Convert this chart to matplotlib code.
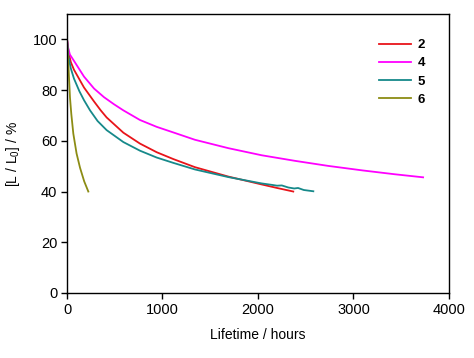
import numpy as np
from matplotlib import pyplot as plt

plt.rcParams['font.family'] = ['Liberation Sans', 'DejaVu Sans']
plt.rcParams['mathtext.fontset'] = 'custom'
plt.rcParams['mathtext.rm'] = 'Liberation Sans'

# values, hours vs. relative luminance (%)
t2 = [0, 15, 40, 73, 178, 283, 353, 415, 590, 764, 939, 1113, 1340, 1689, 2038, 2200, 2370]
l2 = [100, 95, 91, 88, 81, 75.5, 72, 69.2, 63.2, 58.9, 55.5, 52.8, 49.6, 45.9, 42.8, 41.4, 40]

t4 = [0, 10, 30, 73, 178, 283, 387, 492, 590, 764, 939, 1113, 1340, 1689, 2038, 2387, 2736, 3100, 3434, 3730]
l4 = [100, 97, 94, 91.5, 85.3, 80.6, 77.2, 74.4, 72, 68.2, 65.5, 63.3, 60.4, 57.1, 54.3, 52.1, 50.1, 48.3, 46.8, 45.6]

t5 = [0, 15, 40, 73, 130, 178, 241, 320, 415, 590, 764, 939, 1113, 1340, 1689, 2038, 2150, 2200, 2250,
      2317, 2380, 2420, 2480, 2580]
l5 = [100, 93, 88.5, 84.5, 79.5, 76, 72, 67.8, 64.2, 59.5, 56.1, 53.4, 51.3, 48.7, 45.7, 43.2, 42.6, 42.3, 42.4,
      41.6, 41.2, 41.4, 40.6, 40.1]

t6 = [0, 8, 17, 31, 45, 66, 100, 136, 180, 223]
l6 = [100, 94, 88, 77, 70.5, 62.8, 55, 49.4, 44, 40]

series = [('2', t2, l2, '#e8141a'),
          ('4', t4, l4, '#ff00ff'),
          ('5', t5, l5, '#16898a'),
          ('6', t6, l6, '#8c8c14')]

fig = plt.figure(figsize=(4.74, 3.58), dpi=100)
ax = fig.add_axes([0.1414, 0.1816, 0.8056, 0.7794])

for name, t, l, c in series:
    ax.plot(t, l, color=c, lw=1.3, label=name)

ax.set_xlim(0, 4000)
ax.set_ylim(0, 110)
ax.set_xticks([0, 1000, 2000, 3000, 4000])
ax.set_yticks([0, 20, 40, 60, 80, 100])
ax.tick_params(direction='out', length=4, width=1, labelsize=10.5, pad=3, top=False, right=False)
for s in ax.spines.values():
    s.set_linewidth(1)

ax.set_xlabel('Lifetime / hours', fontsize=10, labelpad=8)
ax.set_ylabel(r'[L / L$_\mathrm{0}$] / %', fontsize=10, labelpad=8)

leg = ax.legend(loc='upper right', bbox_to_anchor=(0.937, 0.91), frameon=False,
                handlelength=2.4, handletextpad=0.5, borderpad=0, borderaxespad=0,
                labelspacing=0.45, prop={'size': 9.5, 'weight': 'bold'})

plt.savefig('out.png', dpi=100)
